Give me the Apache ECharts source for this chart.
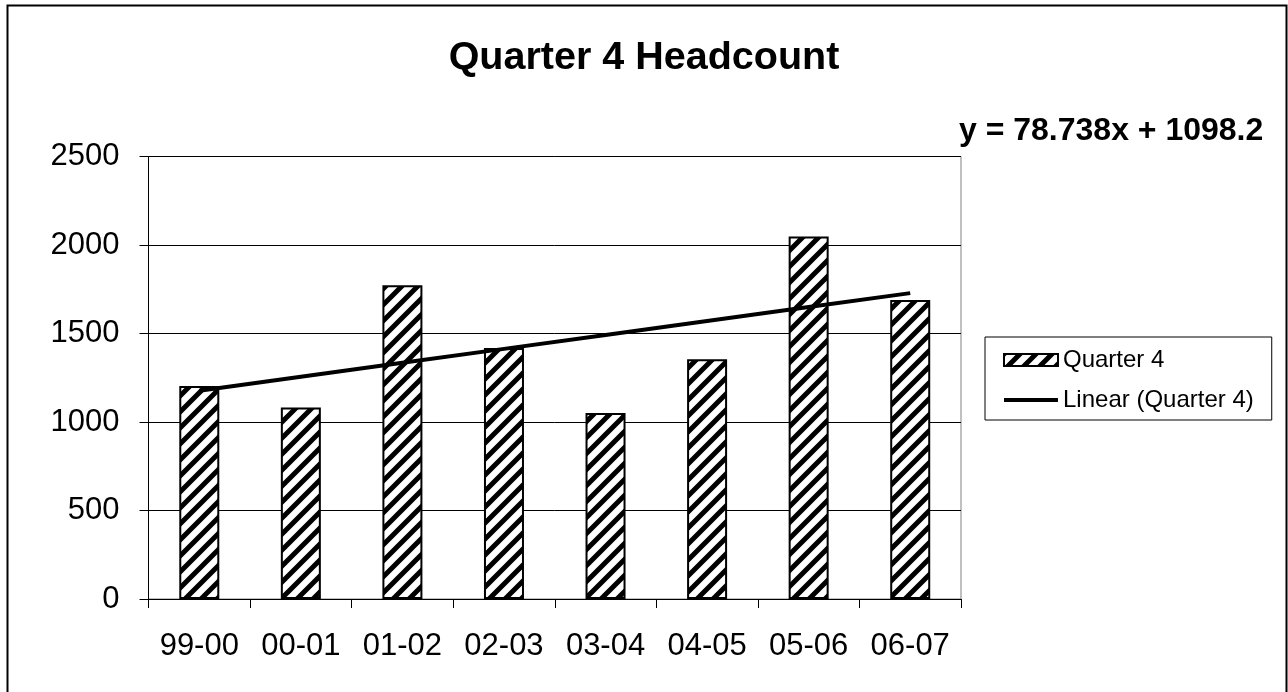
<!DOCTYPE html>
<html>
<head>
<meta charset="utf-8">
<script src="https://cdn.jsdelivr.net/npm/echarts@6/dist/echarts.min.js"></script>
<style>
html,body{margin:0;padding:0;background:#fff;}
#chart{width:1288px;height:692px;}
</style>
</head>
<body>
<div id="chart"></div>
<script>
const categories = ['99-00','00-01','01-02','02-03','03-04','04-05','05-06','06-07'];
const quarter4 = [1203, 1082, 1772, 1418, 1051, 1355, 2048, 1689];
const trendSlope = 78.738;
const trendIntercept = 1098.2;
const yTicks = {min: 0, max: 2500, interval: 500};
const titleText = 'Quarter 4 Headcount';
const equationText = 'y = 78.738x + 1098.2';
const seriesNames = ['Quarter 4', 'Linear (Quarter 4)'];

const trend = categories.map((c, i) => +(trendIntercept + trendSlope * (i + 1)).toFixed(2));

function hatch() {
  const s = 16;
  const c = document.createElement('canvas');
  c.width = s; c.height = s;
  const g = c.getContext('2d');
  g.fillStyle = '#fff';
  g.fillRect(0, 0, s, s);
  g.strokeStyle = '#000';
  g.lineWidth = 5;
  g.lineCap = 'square';
  g.beginPath();
  g.moveTo(-s, s); g.lineTo(s, -s);
  g.moveTo(0, 2 * s); g.lineTo(2 * s, 0);
  g.moveTo(-s, 2*s); g.lineTo(2*s, -s);
  g.stroke();
  return c;
}
const pattern = {image: hatch(), repeat: 'repeat'};
const FONT = 'Liberation Sans, Arial, sans-serif';

const chart = echarts.init(document.getElementById('chart'));
chart.setOption({
  animation: false,
  backgroundColor: '#fff',
  textStyle: {fontFamily: FONT},
  title: {
    text: titleText,
    left: 'center',
    top: 33,
    textStyle: {fontSize: 39.5, fontWeight: 'bold', color: '#000', fontFamily: FONT}
  },
  grid: {
    left: 148.5, right: 327, top: 156.5, bottom: 93,
    show: true, borderColor: '#808080', borderWidth: 1, backgroundColor: '#fff'
  },
  legend: {
    orient: 'vertical',
    left: 985, top: 337,
    padding: [11, 18, 8, 18],
    itemGap: 16,
    itemWidth: 54, itemHeight: 12,
    borderColor: '#000', borderWidth: 1,
    textStyle: {fontSize: 24, color: '#000', fontFamily: FONT},
    data: [
      {name: seriesNames[0], icon: 'rect', itemStyle: {color: pattern, borderColor: '#000', borderWidth: 2}},
      {name: seriesNames[1], icon: 'path://M0,0 L54,0 L54,4 L0,4 Z', itemStyle: {color: '#000'}}
    ]
  },
  xAxis: {
    type: 'category',
    data: categories,
    axisLine: {lineStyle: {color: '#000', width: 1}},
    axisTick: {show: true, length: 9, inside: false, interval: 0, lineStyle: {color: '#000'}},
    axisLabel: {fontSize: 31, color: '#000', margin: 32, interval: 0, hideOverlap: false, fontFamily: FONT},
    splitLine: {show: false}
  },
  yAxis: {
    type: 'value',
    min: yTicks.min, max: yTicks.max, interval: yTicks.interval,
    axisLine: {show: true, lineStyle: {color: '#000', width: 1}},
    axisTick: {show: true, length: 9, lineStyle: {color: '#000'}},
    axisLabel: {fontSize: 31, color: '#000', margin: 29, fontFamily: FONT, formatter: v => String(v)},
    splitLine: {show: true, lineStyle: {color: '#000', width: 1}}
  },
  series: [
    {
      name: seriesNames[0],
      type: 'bar',
      data: quarter4,
      barWidth: 40,
      itemStyle: {color: pattern, borderColor: '#000', borderWidth: 2}
    },
    {
      name: seriesNames[1],
      type: 'line',
      data: trend,
      symbol: 'none',
      lineStyle: {color: '#000', width: 4},
      itemStyle: {color: '#000'},
      z: 5
    }
  ],
  graphic: [
    {
      type: 'rect',
      shape: {x: 7.5, y: 5.5, width: 1279, height: 720},
      style: {fill: 'none', stroke: '#000', lineWidth: 2},
      silent: true
    },
    {
      type: 'text',
      left: 959, top: 115,
      style: {text: equationText, fontSize: 32, fontWeight: 'bold', fill: '#000', fontFamily: FONT}
    }
  ]
});
</script>
</body>
</html>
